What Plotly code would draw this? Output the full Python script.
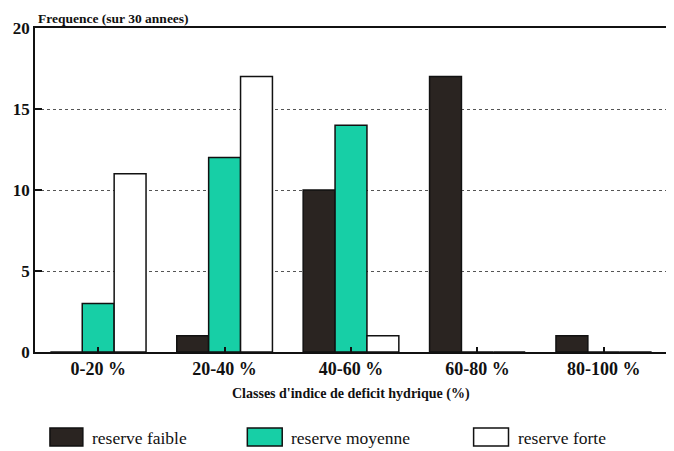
import plotly.graph_objects as go

categories = ["0-20 %", "20-40 %", "40-60 %", "60-80 %", "80-100 %"]
reserve_faible = [0, 1, 10, 17, 1]
reserve_moyenne = [3, 12, 14, 0, 0]
reserve_forte = [11, 17, 1, 0, 0]
y_ticks = [0, 5, 10, 15, 20]
series_names = ["reserve faible", "reserve moyenne", "reserve forte"]

FONT = "Liberation Serif"
colors = ["#2a2421", "#17cfa6", "#ffffff"]

fig = go.Figure()
for name, vals, col in zip(series_names, [reserve_faible, reserve_moyenne, reserve_forte], colors):
    fig.add_trace(go.Bar(x=categories, y=vals, name=name,
                         marker=dict(color=col, line=dict(color="#111111", width=1.5)),
                         showlegend=False))

# page has an 8px body margin: compensate so the plot lands where the reference has it
OFF = 8
W, H = 674 - OFF, 451 - OFF
L, R, T, B = 35 - OFF, 5, 28 - OFF, 99
pw, ph = W - L - R, H - T - B

def px(x):
    return (x - OFF - L) / pw

def py(y):
    return (H - B - (y - OFF)) / ph

fig.update_layout(
    width=W, height=H,
    margin=dict(l=L, r=R, t=T, b=B),
    paper_bgcolor="white", plot_bgcolor="white",
    barmode="group", bargap=0.243, bargroupgap=0,
    font=dict(family=FONT, color="#111111"),
    xaxis=dict(showline=True, linecolor="#111111", linewidth=1.5, mirror=True,
               ticks="inside", ticklen=5, tickcolor="#111111", tickwidth=1.5,
               tickfont=dict(size=18, family=FONT, color="#111111", weight="bold"),
               showgrid=False),
    yaxis=dict(range=[0, 20], tickvals=y_ticks, showline=True, linecolor="#111111",
               linewidth=1.5, mirror=True, ticks="inside", ticklen=7,
               tickcolor="#111111", tickwidth=1.5,
               tickfont=dict(size=17, family=FONT, color="#111111", weight="bold"),
               showgrid=True, gridcolor="#555555", gridwidth=1, griddash="dot",
               zeroline=False),
)

annotations = [
    dict(text="<b>Frequence (sur 30 annees)</b>", x=px(36), y=py(9), xref="paper", yref="paper",
         xanchor="left", yanchor="top", showarrow=False, font=dict(size=13.5, family=FONT)),
    dict(text="<b>Classes d'indice de deficit hydrique (%)</b>", x=px(352), y=py(394),
         xref="paper", yref="paper", xanchor="center", yanchor="middle", showarrow=False,
         font=dict(size=14, family=FONT)),
]
shapes = []
legend_boxes = [(50, 83), (248, 283), (475, 510)]
legend_text_x = [90, 290, 518]
for (x0, x1), tx, name, col in zip(legend_boxes, legend_text_x, series_names, colors):
    shapes.append(dict(type="rect", xref="paper", yref="paper",
                       x0=px(x0), x1=px(x1), y0=py(446), y1=py(428),
                       fillcolor=col, line=dict(color="#111111", width=1.5)))
    annotations.append(dict(text=name, x=px(tx), y=py(438), xref="paper", yref="paper",
                            xanchor="left", yanchor="middle", showarrow=False,
                            font=dict(size=17.5, family=FONT)))
fig.update_layout(annotations=annotations, shapes=shapes)

fig.write_html("out.html")
